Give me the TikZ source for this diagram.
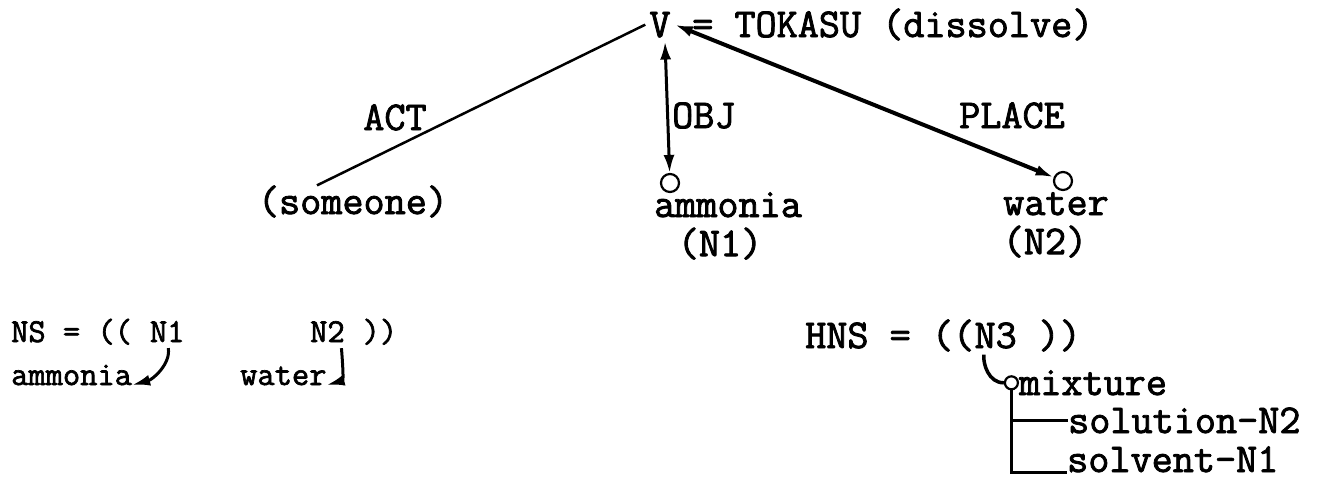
\documentclass[tikz,border=0pt]{standalone}
\usepackage{fontspec}
\usepackage{tikz}
\usetikzlibrary{shapes.geometric, positioning, arrows, arrows.meta, calc}

\newfontfamily\typer{Latin Modern Mono}[FakeBold=2]

\tikzset{%
  txt/.style={inner sep=0pt, font=\typer\fontsize{41}{49}\selectfont},%
  sml/.style={inner sep=0pt, font=\typer\fontsize{33.5}{40}\selectfont},%
  ring/.style={draw, circle, line width=2.2pt, minimum size=18pt, inner
    sep=0pt},%
  rel/.style={line width=3pt},%
  >={Latex[length=18pt, width=11pt]},%
}

\begin{document}
\begin{tikzpicture}[x=1pt, y=-1pt]
          \useasboundingbox (0,0) rectangle (1322,483);%

          % case frame
          \node [txt, anchor=base, inner sep=4pt] (v) at (660,37) {V};%
          \node [txt, anchor=base west] (gloss) at (692,37)
          {= TOKASU (dissolve)};%
          \node [txt, anchor=base] (act) at (395,130) {ACT};%
          \node [txt, anchor=base west] (obj) at (672,128) {OBJ};%
          \node [txt, anchor=base] (plc) at (1012,128) {PLACE};%

          \node [txt, anchor=base] (some) at (353,214) {(someone)};%
          \node [txt, anchor=base] (amm) at (728,217) {ammonia};%
          \node [txt, below=10pt of amm, xshift=-8pt] (nA) {(N1)};%
          \node [txt, anchor=base] (wat) at (1056,215) {water};%
          \node [txt, below=10pt of wat, xshift=-11pt] (nB) {(N2)};%
          \node [ring] (oc) at (670,183) {};%
          \node [ring] (pc) at (1063,181) {};%

          \draw [rel, line width=2.5pt] ([xshift=-36pt]some.north) -- (v.west);%
          \draw [rel, <->] ([xshift=5pt]v.south) -- (oc);%
          \draw [rel, <->, line width=4pt] (v.east) -- (pc);%

          % noun stack
          \node [sml, anchor=base west] (ns) at (11,342) {NS = ((};%
          \node [sml, anchor=base west, xshift=17.6pt] (nsA) at (ns.base east)
          {N1};%
          \node [sml, anchor=base west] (nsB) at (310,342) {N2};%
          \node [sml, anchor=base west, xshift=17.6pt] (nsend) at
          (nsB.base east) {))};%
          \node [sml, anchor=base west] (ammB) at (11,385) {ammonia};%
          \node [sml, anchor=base west] (watB) at (240,385) {water};%

          \draw [rel, ->, shorten <=6pt] (nsA.south) to [out=-80, in=15]
          (ammB.base east);%
          \draw [rel, ->, shorten <=6pt] ([xshift=-4pt]nsB.south east) to
          [out=-85, in=15] (watB.base east);%

          % hidden noun stack
          \node [txt, anchor=base west] (hns) at (805,348) {HNS = ((};%
          \node [txt, anchor=base west] (n3) at (hns.base east) {N3};%
          \node [txt, anchor=base west, xshift=21.5pt] (hend) at (n3.base east)
          {))};%
          \node [txt, anchor=base west] (mix) at (1019,395) {mixture};%
          \node [ring, minimum size=13pt, left=0pt of mix] (mc) {};%
          \node [txt, anchor=base west] (sol) at (1068,433) {solution-N2};%
          \node [txt, anchor=base west] (slv) at (1067,472) {solvent-N1};%

          \draw [rel, line width=3.5pt, shorten <=6pt] ([xshift=10pt]n3.south
          west) to [out=-95, in=180] (mc.west);%
          \draw [rel] (mc.south) |- (sol.west);%
          \draw [rel] (mc.south) |- (slv.base west);%
\end{tikzpicture}
\end{document}
